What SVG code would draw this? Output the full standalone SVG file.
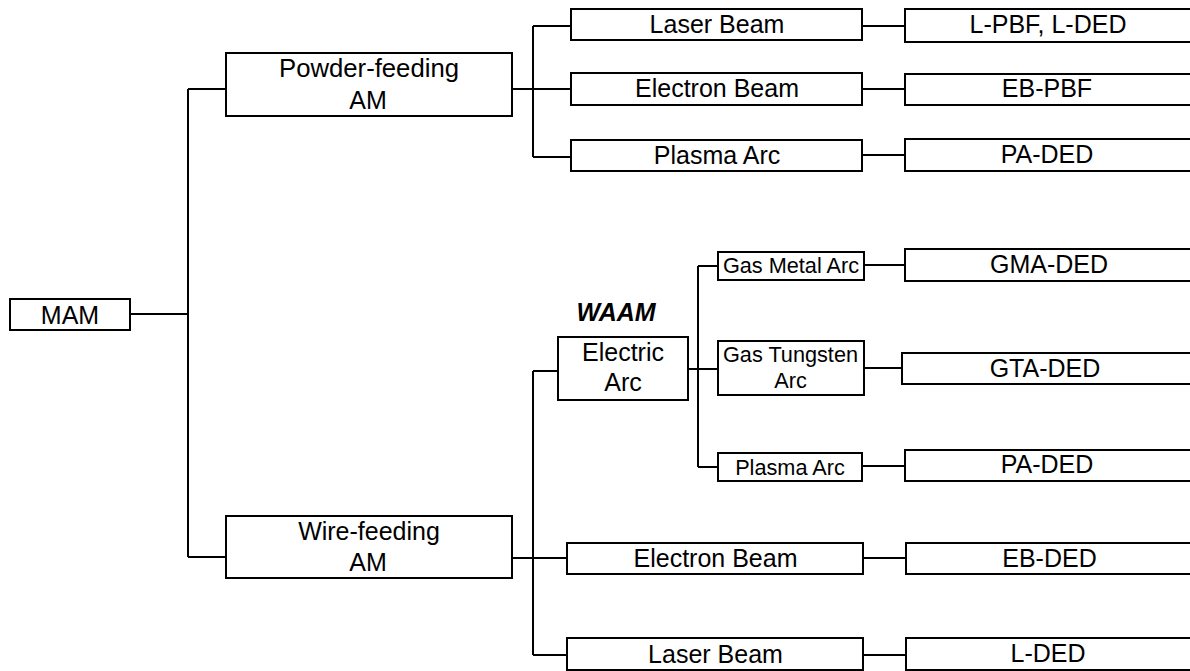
<svg xmlns="http://www.w3.org/2000/svg" width="1190" height="671" viewBox="0 0 1190 671">
<style>
rect{fill:#fff;stroke:#000;stroke-width:2}
.c{fill:none;stroke:#000;stroke-width:2}
text{font-family:"Liberation Sans",Arial,sans-serif;font-size:25px;fill:#000;text-anchor:middle}
.s{font-size:21.7px}
.b{font-weight:bold;font-style:italic}
</style>
<rect x="0" y="0" width="1190" height="671" style="stroke:none"/>
<g id="connectors">
<path class="c" d="M130 314H188M188 89V557M188 89H226M188 557H226"/>
<path class="c" d="M512 89H571M533 26V157M533 26H571M533 157H571"/>
<path class="c" d="M862 26H905M862 89H905M862 155H905"/>
<path class="c" d="M512 558H567M533 371V655M533 371H558M533 655H567"/>
<path class="c" d="M863 558H906M863 655H906"/>
<path class="c" d="M688 369H718M698 266V467M698 266H718M698 467H718"/>
<path class="c" d="M864 265H905M864 368H905M862 466H905"/>
</g>
<g id="mam"><rect x="10" y="299" width="120" height="31"/><text x="70" y="324">MAM</text></g>
<g id="powder"><rect x="226" y="53" width="286" height="63"/><text x="369" y="77" textLength="180" lengthAdjust="spacingAndGlyphs">Powder-feeding</text><text x="368" y="109">AM</text></g>
<g id="wire"><rect x="226" y="516" width="286" height="62"/><text x="369" y="540">Wire-feeding</text><text x="368" y="571">AM</text></g>
<g id="p-laser"><rect x="571" y="9" width="291" height="31"/><text x="717" y="33">Laser Beam</text></g>
<g id="p-eb"><rect x="571" y="73" width="291" height="32"/><text x="717" y="97">Electron Beam</text></g>
<g id="p-pa"><rect x="571" y="140" width="291" height="31"/><text x="717" y="164">Plasma Arc</text></g>
<g id="r-lpbf"><rect x="905" y="9" width="290" height="33"/><text x="1048" y="33">L-PBF, L-DED</text></g>
<g id="r-ebpbf"><rect x="905" y="74" width="290" height="31"/><text x="1047" y="97">EB-PBF</text></g>
<g id="r-paded1"><rect x="905" y="139" width="290" height="32"/><text x="1047" y="163">PA-DED</text></g>
<g id="waam"><text class="b" x="616" y="321">WAAM</text></g>
<g id="electric-arc"><rect x="558" y="337" width="130" height="63"/><text x="623" y="361">Electric</text><text x="623" y="391">Arc</text></g>
<g id="gma"><rect x="718" y="252" width="146" height="28"/><text class="s" x="791" y="273">Gas Metal Arc</text></g>
<g id="gta"><rect x="718" y="341" width="146" height="54"/><text class="s" x="790.5" y="361.5">Gas Tungsten</text><text class="s" x="790.5" y="387.5">Arc</text></g>
<g id="w-pa"><rect x="718" y="453" width="144" height="28"/><text class="s" x="790" y="475">Plasma Arc</text></g>
<g id="r-gma"><rect x="905" y="249" width="290" height="32"/><text x="1049" y="273">GMA-DED</text></g>
<g id="r-gta"><rect x="902" y="353" width="293" height="31"/><text x="1045" y="376.5">GTA-DED</text></g>
<g id="r-paded2"><rect x="905" y="450" width="290" height="31"/><text x="1047" y="473">PA-DED</text></g>
<g id="w-eb"><rect x="567" y="543" width="296" height="31"/><text x="715.5" y="566.5">Electron Beam</text></g>
<g id="w-laser"><rect x="567" y="638" width="296" height="32"/><text x="715.5" y="663">Laser Beam</text></g>
<g id="r-ebded"><rect x="906" y="543" width="290" height="31"/><text x="1049.5" y="566.5">EB-DED</text></g>
<g id="r-lded"><rect x="906" y="638" width="290" height="32"/><text x="1048" y="662">L-DED</text></g>
</svg>
